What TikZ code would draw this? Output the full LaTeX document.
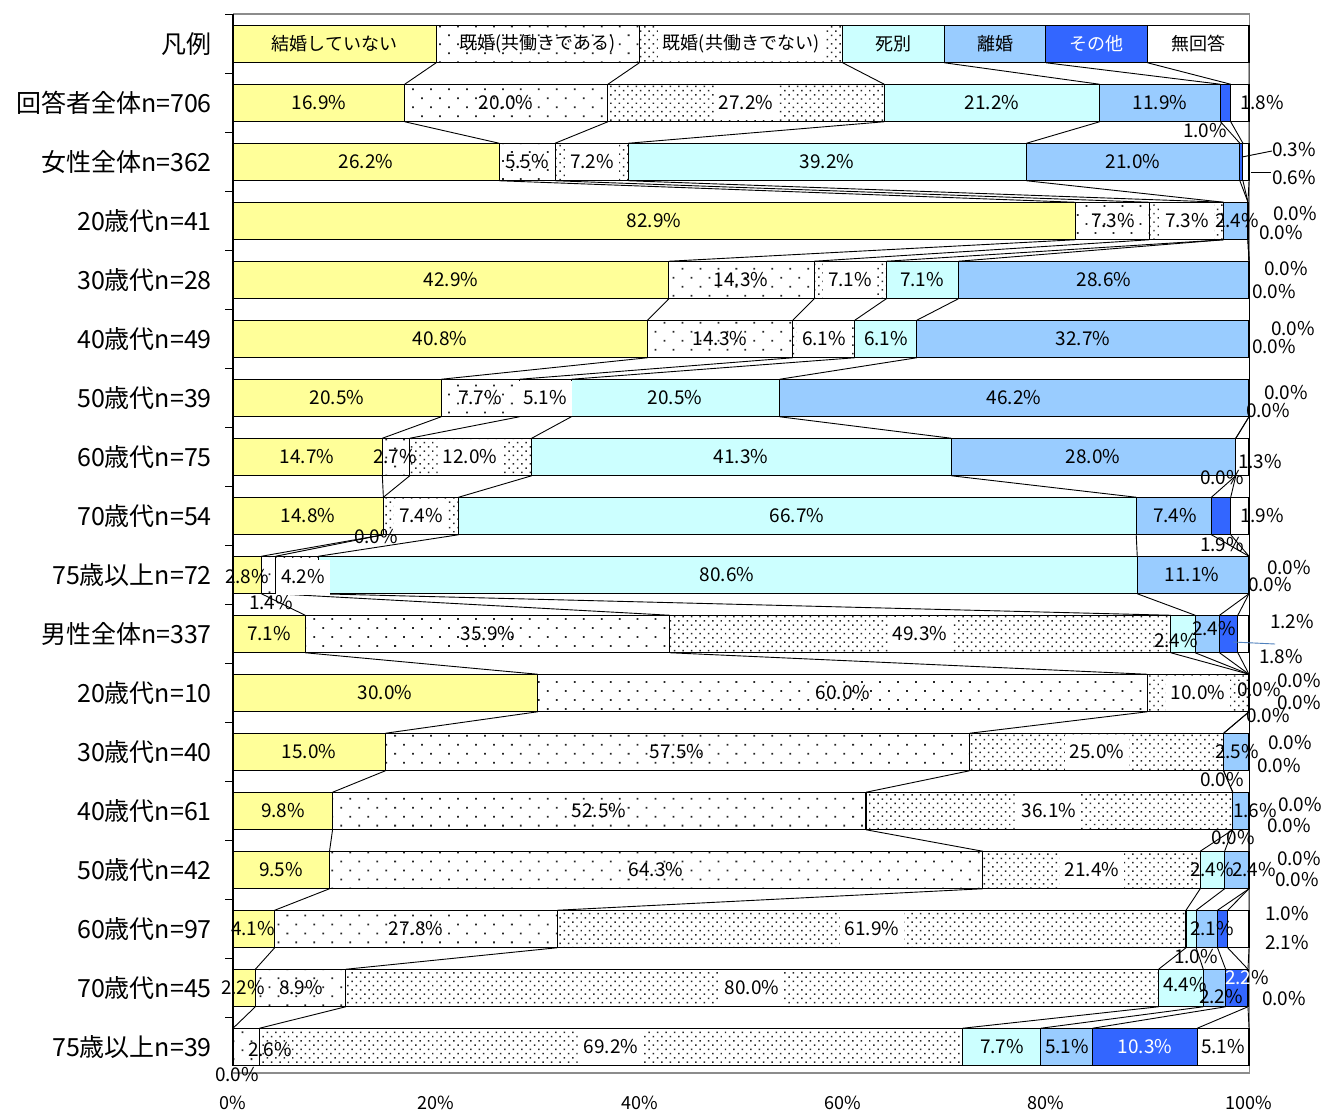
\documentclass[tikz,border=0pt]{standalone}
\usepackage{fontspec}
\setmainfont{Noto Sans CJK JP}
\usetikzlibrary{patterns.meta}
\definecolor{cYel}{HTML}{FFFF99}
\definecolor{cCyan}{HTML}{CCFFFF}
\definecolor{cLB}{HTML}{99CCFF}
\definecolor{cBlue}{HTML}{3366FF}
\definecolor{cLead}{HTML}{4F81BD}
\tikzset{
  segbase/.style={draw=black, line width=1.1pt},
  seg1/.style={segbase, fill=cYel},
  seg2/.style={segbase, pattern={Dots[distance=12.7pt, angle=45, radius=1.25pt]}, pattern color=black!85},
  seg3/.style={segbase, pattern={Dots[distance=6pt, angle=45, radius=1.05pt]}, pattern color=black!85},
  seg4/.style={segbase, fill=cCyan},
  seg5/.style={segbase, fill=cLB},
  seg6/.style={segbase, fill=cBlue},
  seg7/.style={segbase, fill=white},
  dl/.style={font=\fontsize{19}{19}\selectfont, inner sep=0pt},
  dlw/.style={dl, fill=white, minimum height=35pt, inner xsep=5pt},
  lg/.style={font=\fontsize{18}{18}\selectfont, inner sep=0pt},
  lgw/.style={lg, fill=white, minimum height=35pt, inner xsep=5pt},
  cat/.style={font=\fontsize{25}{25}\selectfont, anchor=east, inner sep=0pt},
  axl/.style={font=\fontsize{18}{18}\selectfont, inner sep=0pt},
  serline/.style={draw=black, line width=0.9pt},
  leader/.style={draw=black, line width=0.9pt},
}
\newcommand\barrow[3]{%
  \gdef\cumA{0}%
  \foreach \v [count=\k] in {#3} {%
    \pgfmathsetmacro\cumB{\cumA+\v}%
    \pgfmathsetmacro\xa{233+10.16*min(\cumA,100)}%
    \pgfmathsetmacro\xb{233+10.16*min(\cumB,100)}%
    \ifdim\v pt>0pt
      \path[seg\k] (\xa,#2-18.75) rectangle (\xb,#2+18.75);
    \fi
    \coordinate (t-#1-\k) at (\xb,#2-18.75);
    \coordinate (b-#1-\k) at (\xb,#2+18.75);
    \xdef\cumA{\cumB}%
  }%
}
\begin{document}
\begin{tikzpicture}[x=1pt,y=-1pt]
\useasboundingbox (0,0) rectangle (1322,1113);
\fill[white] (0,0) rectangle (1322,1113);
% plot frame
\draw[black!45, line width=1.3pt] (233,14) -- (1249.5,14) -- (1249.5,1073) -- (233,1073);
% bars
\barrow{0}{44}{20,20,20,10,10,10,10}
\barrow{1}{103}{16.9,20.0,27.2,21.2,11.9,1.0,1.8}
\barrow{2}{162}{26.2,5.5,7.2,39.2,21.0,0.3,0.6}
\barrow{3}{221}{82.9,7.3,7.3,0.0,2.4,0.0,0.0}
\barrow{4}{280}{42.9,14.3,7.1,7.1,28.6,0.0,0.0}
\barrow{5}{339}{40.8,14.3,6.1,6.1,32.7,0.0,0.0}
\barrow{6}{398}{20.5,7.7,5.1,20.5,46.2,0.0,0.0}
\barrow{7}{457}{14.7,2.7,12.0,41.3,28.0,0.0,1.3}
\barrow{8}{516}{14.8,0.0,7.4,66.7,7.4,1.9,1.9}
\barrow{9}{575}{2.8,1.4,4.2,80.6,11.1,0.0,0.0}
\barrow{10}{634}{7.1,35.9,49.3,2.4,2.4,1.8,1.2}
\barrow{11}{693}{30.0,60.0,10.0,0.0,0.0,0.0,0.0}
\barrow{12}{752}{15.0,57.5,25.0,0.0,2.5,0.0,0.0}
\barrow{13}{811}{9.8,52.5,36.1,0.0,1.6,0.0,0.0}
\barrow{14}{870}{9.5,64.3,21.4,2.4,2.4,0.0,0.0}
\barrow{15}{929}{4.1,27.8,61.9,1.0,2.1,1.0,2.1}
\barrow{16}{988}{2.2,8.9,80.0,4.4,2.2,2.2,0.0}
\barrow{17}{1047}{0.0,2.6,69.2,7.7,5.1,10.3,5.1}
% series lines
\foreach \r [evaluate=\r as \rn using int(\r+1)] in {0,...,16} {
  \foreach \k in {1,...,7} { \draw[serline] (b-\r-\k) -- (t-\rn-\k); }
}
% left axis
\draw[black, line width=1.1pt] (233,14) -- (233,1066);
\foreach \i in {0,...,17} { \draw[black, line width=1.1pt] (225,14.5+59*\i) -- (233,14.5+59*\i); }
% category labels
\node[cat] (c0) at (212,44) {凡例};
\node[cat] (c1) at (212,103) {回答者全体n=706};
\node[cat] (c2) at (212,162) {女性全体n=362};
\node[cat] (c3) at (212,221) {20歳代n=41};
\node[cat] (c4) at (212,280) {30歳代n=28};
\node[cat] (c5) at (212,339) {40歳代n=49};
\node[cat] (c6) at (212,398) {50歳代n=39};
\node[cat] (c7) at (212,457) {60歳代n=75};
\node[cat] (c8) at (212,516) {70歳代n=54};
\node[cat] (c9) at (212,575) {75歳以上n=72};
\node[cat] (c10) at (212,634) {男性全体n=337};
\node[cat] (c11) at (212,693) {20歳代n=10};
\node[cat] (c12) at (212,752) {30歳代n=40};
\node[cat] (c13) at (212,811) {40歳代n=61};
\node[cat] (c14) at (212,870) {50歳代n=42};
\node[cat] (c15) at (212,929) {60歳代n=97};
\node[cat] (c16) at (212,988) {70歳代n=45};
\node[cat] (c17) at (212,1047) {75歳以上n=39};
% x axis labels
\foreach \i/\t in {0/0,1/20,2/40,3/60,4/80,5/100} { \node[axl] (ax\i) at (233+203.2*\i,1103) {\t\%}; }
% legend labels
\node[lg] (n0-1) at (334.6,44) {結婚していない};
\node[lg] (n0-2) at (537.8,44) {既婚(共働きである)};
\node[lgw] (n0-3) at (741,44) {既婚(共働きでない)};
\node[lg] (n0-4) at (893.4,44) {死別};
\node[lg] (n0-5) at (995,44) {離婚};
\node[lg,text=white] (n0-6) at (1096.6,44) {その他};
\node[lg] (n0-7) at (1198.2,44) {無回答};
% row 1
\node[dl] (n1-1) at (319,103) {16.9\%};
\node[dl] (n1-2) at (506,103) {20.0\%};
\node[dlw] (n1-3) at (746,103) {27.2\%};
\node[dl] (n1-4) at (992,103) {21.2\%};
\node[dl] (n1-5) at (1160,103) {11.9\%};
\node[dl] (n1-6) at (1205,131) {1.0\%};
\node[dl] (n1-7) at (1262,103) {1.8\%};
% row 2
\node[dl] (n2-1) at (366,162) {26.2\%};
\node[dl] (n2-2) at (527,162) {5.5\%};
\node[dlw] (n2-3) at (592,162) {7.2\%};
\node[dl] (n2-4) at (827,162) {39.2\%};
\node[dl] (n2-5) at (1133,162) {21.0\%};
\node[dl] (n2-6) at (1294,150) {0.3\%};
\node[dl] (n2-7) at (1294,178) {0.6\%};
\coordinate (ld2a) at (1242,157);
\coordinate (ld2b) at (1272,151);
\coordinate (ld2c) at (1251,172);
\coordinate (ld2d) at (1271,172);
\draw[leader] (ld2a) -- (ld2b);
\draw[leader] (ld2c) -- (ld2d);
% row 3
\node[dl] (n3-1) at (654,221) {82.9\%};
\node[dl] (n3-2) at (1113,221) {7.3\%};
\node[dlw] (n3-3) at (1187,221) {7.3\%};
\node[dl] (n3-5) at (1237,221) {2.4\%};
\node[dl] (n3-6) at (1295,214) {0.0\%};
\node[dl] (n3-7) at (1281,233) {0.0\%};
% row 4
\node[dl] (n4-1) at (451,280) {42.9\%};
\node[dl] (n4-2) at (741,280) {14.3\%};
\node[dlw] (n4-3) at (850,280) {7.1\%};
\node[dl] (n4-4) at (922,280) {7.1\%};
\node[dl] (n4-5) at (1104,280) {28.6\%};
\node[dl] (n4-6) at (1286,269) {0.0\%};
\node[dl] (n4-7) at (1274,292) {0.0\%};
% row 5
\node[dl] (n5-1) at (440,339) {40.8\%};
\node[dl] (n5-2) at (720,339) {14.3\%};
\node[dlw] (n5-3) at (824,339) {6.1\%};
\node[dl] (n5-4) at (886,339) {6.1\%};
\node[dl] (n5-5) at (1083,339) {32.7\%};
\node[dl] (n5-6) at (1293,329) {0.0\%};
\node[dl] (n5-7) at (1274,347) {0.0\%};
% row 6
\node[dl] (n6-1) at (337,398) {20.5\%};
\node[dl] (n6-2) at (480,398) {7.7\%};
\node[dlw] (n6-3) at (545,398) {5.1\%};
\node[dl] (n6-4) at (675,398) {20.5\%};
\node[dl] (n6-5) at (1014,398) {46.2\%};
\node[dl] (n6-6) at (1286,393) {0.0\%};
\node[dl] (n6-7) at (1268,411) {0.0\%};
% row 7
\node[dl] (n7-1) at (307,457) {14.7\%};
\node[dl] (n7-2) at (395,457) {2.7\%};
\node[dlw] (n7-3) at (470,457) {12.0\%};
\node[dl] (n7-4) at (741,457) {41.3\%};
\node[dl] (n7-5) at (1093,457) {28.0\%};
\node[dl] (n7-6) at (1222,478) {0.0\%};
\node[dl] (n7-7) at (1260,462) {1.3\%};
% row 8
\node[dl] (n8-1) at (308,516) {14.8\%};
\node[dl] (n8-2) at (376,537) {0.0\%};
\node[dlw] (n8-3) at (421,516) {7.4\%};
\node[dl] (n8-4) at (797,516) {66.7\%};
\node[dl] (n8-5) at (1175,516) {7.4\%};
\node[dl] (n8-6) at (1222,545) {1.9\%};
\node[dl] (n8-7) at (1262,516) {1.9\%};
% row 9
\node[dl] (n9-1) at (247,577) {2.8\%};
\node[dl] (n9-2) at (271,603) {1.4\%};
\node[dlw] (n9-3) at (303,577) {4.2\%};
\node[dl] (n9-4) at (727,575) {80.6\%};
\node[dl] (n9-5) at (1192,575) {11.1\%};
\node[dl] (n9-6) at (1289,568) {0.0\%};
\node[dl] (n9-7) at (1270,585) {0.0\%};
% row 10
\node[dl] (n10-1) at (269,634) {7.1\%};
\node[dl] (n10-2) at (488,634) {35.9\%};
\node[dlw] (n10-3) at (920,634) {49.3\%};
\node[dl] (n10-4) at (1176,641) {2.4\%};
\node[dl] (n10-5) at (1214,629) {2.4\%};
\node[dl] (n10-7) at (1292,622) {1.2\%};
\node[dl] (n10-6) at (1281,657) {1.8\%};
\coordinate (ld10a) at (1233,642);
\coordinate (ld10b) at (1275,644);
\draw[leader, draw=cLead] (ld10a) -- (ld10b);
% row 11
\node[dl] (n11-1) at (385,693) {30.0\%};
\node[dl] (n11-2) at (843,693) {60.0\%};
\node[dlw] (n11-3) at (1198,693) {10.0\%};
\node[dl] (n11-4) at (1259,690) {0.0\%};
\node[dl] (n11-5) at (1299,681) {0.0\%};
\node[dl] (n11-6) at (1299,703) {0.0\%};
\node[dl] (n11-7) at (1268,716) {0.0\%};
% row 12
\node[dl] (n12-1) at (309,752) {15.0\%};
\node[dl] (n12-2) at (677,752) {57.5\%};
\node[dlw] (n12-3) at (1097,752) {25.0\%};
\node[dl] (n12-5) at (1237,752) {2.5\%};
\node[dl] (n12-4) at (1222,780) {0.0\%};
\node[dl] (n12-6) at (1290,743) {0.0\%};
\node[dl] (n12-7) at (1279,766) {0.0\%};
% row 13
\node[dl] (n13-1) at (283,811) {9.8\%};
\node[dl] (n13-2) at (599,811) {52.5\%};
\node[dlw] (n13-3) at (1049,811) {36.1\%};
\node[dl] (n13-5) at (1255,811) {1.6\%};
\node[dl] (n13-4) at (1233,838) {0.0\%};
\node[dl] (n13-6) at (1300,805) {0.0\%};
\node[dl] (n13-7) at (1289,826) {0.0\%};
% row 14
\node[dl] (n14-1) at (281,870) {9.5\%};
\node[dl] (n14-2) at (656,870) {64.3\%};
\node[dlw] (n14-3) at (1092,870) {21.4\%};
\node[dl] (n14-4) at (1212,870) {2.4\%};
\node[dl] (n14-5) at (1254,870) {2.4\%};
\node[dl] (n14-6) at (1299,859) {0.0\%};
\node[dl] (n14-7) at (1297,880) {0.0\%};
% row 15
\node[dl] (n15-1) at (253,929) {4.1\%};
\node[dl] (n15-2) at (416,929) {27.8\%};
\node[dlw] (n15-3) at (872,929) {61.9\%};
\node[dl] (n15-4) at (1196,957) {1.0\%};
\node[dl] (n15-5) at (1212,929) {2.1\%};
\node[dl] (n15-6) at (1287,914) {1.0\%};
\node[dl] (n15-7) at (1287,943) {2.1\%};
% row 16
\node[dl] (n16-1) at (243,988) {2.2\%};
\node[dl] (n16-2) at (301,988) {8.9\%};
\node[dlw] (n16-3) at (752,988) {80.0\%};
\node[dl] (n16-4) at (1185,985) {4.4\%};
\node[dl] (n16-5) at (1221,997) {2.2\%};
\node[dl] (n16-6) at (1247,978) {\textcolor{white}{2.2}\%};
\node[dl] (n16-7) at (1284,999) {0.0\%};
% row 17
\node[dl] (n17-1) at (237,1075) {0.0\%};
\node[dl] (n17-2) at (270,1050) {2.6\%};
\node[dlw] (n17-3) at (611,1047) {69.2\%};
\node[dl] (n17-4) at (1002,1047) {7.7\%};
\node[dl] (n17-5) at (1067,1047) {5.1\%};
\node[dl,text=white] (n17-6) at (1145,1047) {10.3\%};
\node[dl] (n17-7) at (1223,1047) {5.1\%};
\end{tikzpicture}
\end{document}
